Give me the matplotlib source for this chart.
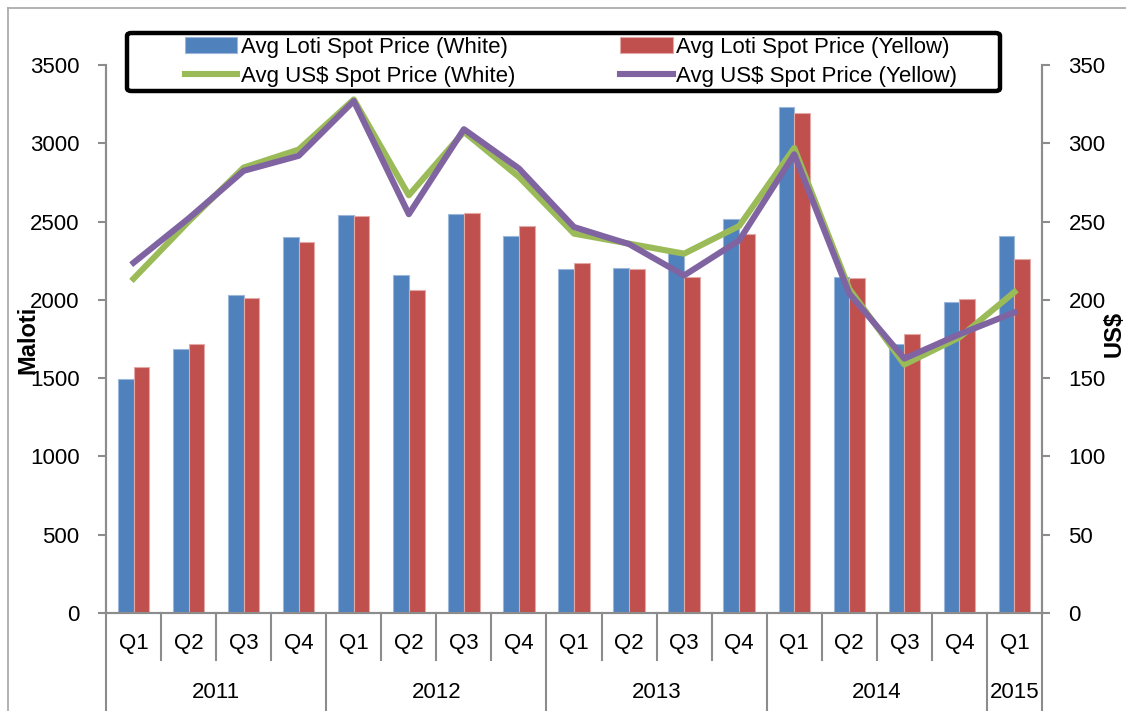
import numpy as np
import matplotlib.pyplot as plt
from matplotlib.patches import FancyBboxPatch
from matplotlib.lines import Line2D
import matplotlib.transforms as mtransforms

plt.rcParams['font.family'] = ['Liberation Sans', 'DejaVu Sans']

quarters = ['Q1', 'Q2', 'Q3', 'Q4'] * 4 + ['Q1']
years = ['2011', '2012', '2013', '2014', '2015']
year_counts = [4, 4, 4, 4, 1]

loti_white = [1495, 1689, 2028, 2399, 2540, 2156, 2546, 2408, 2195, 2203, 2297, 2515, 3229, 2148, 1721, 1985, 2408]
loti_yellow = [1568, 1715, 2015, 2367, 2536, 2065, 2553, 2472, 2237, 2195, 2146, 2419, 3195, 2141, 1779, 2007, 2261]
usd_white = [213.5, 250, 284.5, 296, 328, 266.8, 307.3, 278.5, 242.3, 235.9, 229.5, 247.2, 297, 207, 158.7, 176, 205]
usd_yellow = [223.7, 252, 282.4, 292, 327, 254.7, 309, 283.9, 246.5, 235.6, 215.6, 238, 293, 204, 162.5, 178, 192]

BLUE = '#4F81BD'
RED = '#C0504D'
GREEN = '#9BBB59'
PURPLE = '#8064A2'
GREY = '#8C8C8C'
FS = 16

W, H = 1126, 711
fig = plt.figure(figsize=(W / 100, H / 100), dpi=100)
ax = fig.add_axes([106 / W, 1 - 613 / H, (1042 - 106) / W, (613 - 65) / H])
ax2 = ax.twinx()

x = np.arange(len(quarters))
bw = 0.285
ax.bar(x - bw / 2, loti_white, bw, color=BLUE, edgecolor='#9DB7DA', linewidth=0.8,
       label='Avg Loti Spot Price (White)')
ax.bar(x + bw / 2, loti_yellow, bw, color=RED, edgecolor='#E3A9A7', linewidth=0.8,
       label='Avg Loti Spot Price (Yellow)')
ax2.plot(x, usd_white, color=GREEN, lw=4.4, solid_joinstyle='round',
         label='Avg US$ Spot Price (White)')
ax2.plot(x, usd_yellow, color=PURPLE, lw=4.4, solid_joinstyle='round',
         label='Avg US$ Spot Price (Yellow)')

ax.set_xlim(-0.5, len(quarters) - 0.5)
ax.set_ylim(0, 3500)
ax2.set_ylim(0, 350)
ax.set_yticks(np.arange(0, 3501, 500))
ax2.set_yticks(np.arange(0, 351, 50))
ax.set_xticks([])

for a in (ax, ax2):
    for s in a.spines.values():
        s.set_color(GREY)
        s.set_linewidth(1.5)
    a.spines['top'].set_visible(False)
    a.tick_params(axis='y', colors=GREY, labelcolor='black', labelsize=FS,
                  length=6, width=1.5, pad=13)

# category labels and separators below the axis
trans = mtransforms.blended_transform_factory(ax.transData, ax.transAxes)
for i, q in enumerate(quarters):
    ax.annotate(q, xy=(i, 0), xycoords=trans, xytext=(0, -31 * 0.72),
                textcoords='offset points', ha='center', va='center', fontsize=FS)

edges = np.cumsum([0] + year_counts) - 0.5
for k in range(len(quarters) + 1):
    xb = k - 0.5
    y_end = -100 / 548 if xb in edges else -47 / 548
    ax.plot([xb, xb], [0, y_end], transform=trans, color=GREY, lw=1.5,
            clip_on=False)
for j, yr in enumerate(years):
    xc = (edges[j] + edges[j + 1]) / 2
    ax.annotate(yr, xy=(xc, 0), xycoords=trans, xytext=(0, -80 * 0.72),
                textcoords='offset points', ha='center', va='center', fontsize=FS)

fig.text(28 / W, 1 - 340 / H, 'Maloti', rotation=90, ha='center', va='center',
         fontsize=17, fontweight='bold')
fig.text(1114 / W, 1 - 334 / H, 'US$', rotation=90, ha='center', va='center',
         fontsize=17, fontweight='bold')

# legend
h1, l1 = ax.get_legend_handles_labels()
h2, l2 = ax2.get_legend_handles_labels()
handles = [h1[0], h2[0], h1[1], h2[1]]
labels = [l1[0], l2[0], l1[1], l2[1]]
fig.legend(handles, labels, ncol=2, loc='upper left', frameon=False,
           bbox_to_anchor=(185 / W, 1 - 37 / H), bbox_transform=fig.transFigure,
           borderpad=0, borderaxespad=0, fontsize=FS, handlelength=2.35,
           handletextpad=0.15, columnspacing=4.75, labelspacing=0.35)
fig.patches.append(FancyBboxPatch((127 / W, 1 - 91 / H), (1000 - 127) / W, (91 - 33) / H,
                                  boxstyle='round,pad=0,rounding_size=0.004',
                                  transform=fig.transFigure, facecolor='white',
                                  edgecolor='black', linewidth=3.2, zorder=3))

# outer chart border
fig.lines.append(Line2D([8 / W, 8 / W], [0, 1 - 8 / H], transform=fig.transFigure,
                        color='#A6A6A6', lw=1.2))
fig.lines.append(Line2D([8 / W, 1], [1 - 8 / H, 1 - 8 / H], transform=fig.transFigure,
                        color='#A6A6A6', lw=1.2))

fig.savefig('out.png', dpi=100)
